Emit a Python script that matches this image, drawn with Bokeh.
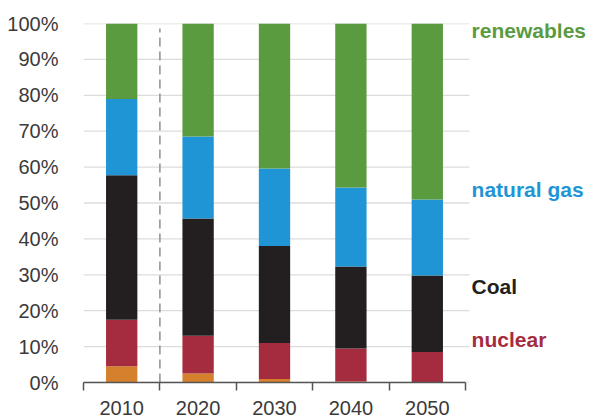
from bokeh.plotting import figure
from bokeh.models import ColumnDataSource, FixedTicker
from bokeh.core.properties import value
from bokeh.embed import file_html
from bokeh.resources import INLINE

years = ["2010", "2020", "2030", "2040", "2050"]
other = [4.5, 2.5, 1.0, 0.3, 0.0]
nuclear = [13.0, 10.5, 10.0, 9.2, 8.5]
coal = [40.2, 32.7, 27.0, 22.8, 21.3]
gas = [21.3, 22.8, 21.6, 22.0, 21.2]
renewables = [21.0, 31.5, 40.4, 45.7, 49.0]

series = ["other", "nuclear", "coal", "gas", "renewables"]
colors = ["#d4802c", "#a52c3e", "#231f20", "#1f95d6", "#5b9b3f"]
ylabels = ["0%", "10%", "20%", "30%", "40%", "50%", "60%", "70%", "80%", "90%", "100%"]
yticks = list(range(0, 101, 10))

label_names = ["renewables", "natural gas", "Coal", "nuclear"]
label_colors = ["#5b9b3f", "#1f95d6", "#231f20", "#a52c3e"]

n = len(years)
src = ColumnDataSource(dict(x=list(range(n)), other=other, nuclear=nuclear,
                            coal=coal, gas=gas, renewables=renewables))

FONT = "Liberation Sans"
PX_PER_CAT = 76.4
FRAME_W = 506

p = figure(width=590, height=416, output_backend="svg", toolbar_location=None,
           x_range=(-0.5, -0.5 + FRAME_W / PX_PER_CAT), y_range=(0, 100),
           min_border_left=83, min_border_right=1, min_border_top=23, min_border_bottom=34,
           frame_width=FRAME_W, frame_height=359)
p.outline_line_color = None
p.xgrid.grid_line_color = None
p.ygrid.grid_line_color = None

# horizontal grid lines limited to the bar area
p.segment(x0=[-0.5] * len(yticks), y0=yticks, x1=[n - 0.45] * len(yticks), y1=yticks,
          line_color="#dcdcdc", line_width=1.3)

p.vbar_stack(series, x="x", width=0.41, source=src, color=colors, line_color=None)

# divider between historical and projected
p.segment(x0=[0.5], y0=[0], x1=[0.5], y1=[98.6], line_color="#8f8f8f",
          line_width=1.5, line_dash="9 5")

# x axis
p.xaxis.bounds = (-0.5, n - 0.5)
p.xaxis.ticker = FixedTicker(ticks=list(range(n)),
                             minor_ticks=[i - 0.5 for i in range(n + 1)])
p.xaxis.major_label_overrides = {i: y for i, y in enumerate(years)}
p.xaxis.major_tick_out = 0
p.xaxis.major_tick_in = 0
p.xaxis.minor_tick_out = 8
p.xaxis.minor_tick_in = 0
p.xaxis.minor_tick_line_color = "#555555"
p.xaxis.minor_tick_line_width = 1.5
p.xaxis.axis_line_color = "#555555"
p.xaxis.axis_line_width = 1.5
p.xaxis.major_label_standoff = 10
p.xaxis.major_label_text_font = FONT
p.xaxis.major_label_text_font_size = "20px"
p.xaxis.major_label_text_color = "#3a3a3a"

# y axis
p.yaxis.ticker = FixedTicker(ticks=yticks)
p.yaxis.major_label_overrides = {t: l for t, l in zip(yticks, ylabels)}
p.yaxis.axis_line_color = None
p.yaxis.major_tick_line_color = None
p.yaxis.minor_tick_line_color = None
p.yaxis.major_label_standoff = 19
p.yaxis.major_label_text_font = FONT
p.yaxis.major_label_text_font_size = "20px"
p.yaxis.major_label_text_color = "#3a3a3a"

# series labels on the right
p.text(x=[n - 0.42] * 4, y=[98.0, 53.8, 26.7, 12.0], text=label_names,
       text_color=label_colors, text_font=value(FONT), text_font_size="21px",
       text_font_style="bold", text_baseline="middle", text_align="left")

open("out.html", "w").write(file_html(p, INLINE))
